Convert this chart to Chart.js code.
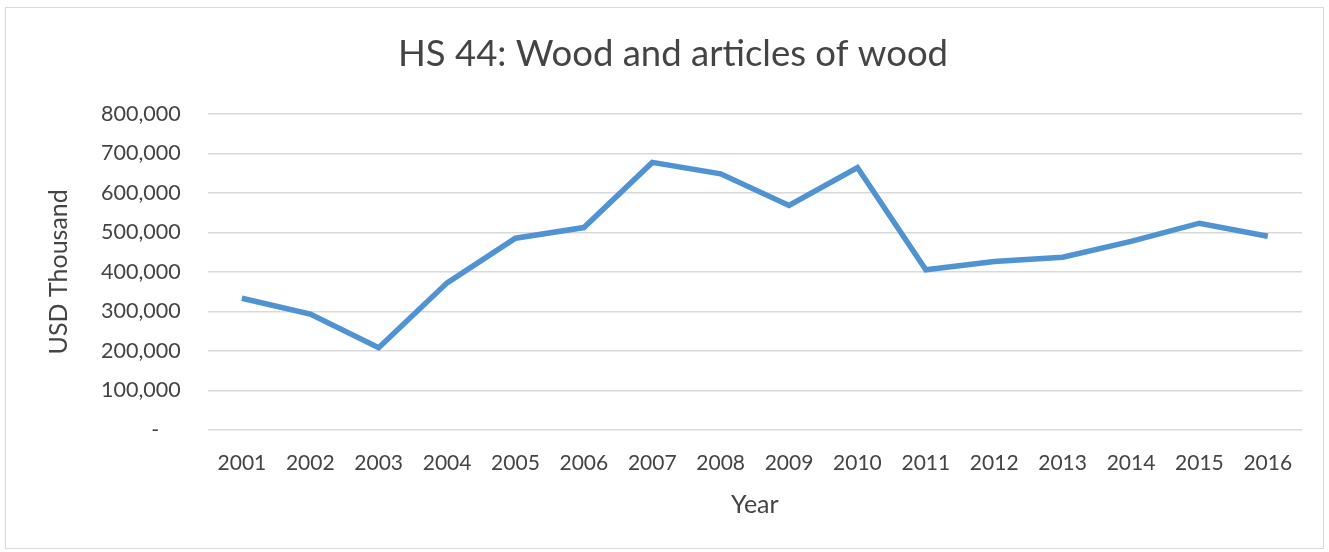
<!DOCTYPE html>
<html>
<head>
<meta charset="utf-8">
<script src="https://cdn.jsdelivr.net/npm/chart.js@4/dist/chart.umd.min.js"></script>
<style>
    html, body { margin: 0; padding: 0; background: #fff; }
    #wrap { position: relative; width: 1329px; height: 552px; }
    #frame {
        position: absolute; left: 5px; top: 7px; width: 1317px; height: 540px;
        border: 1px solid #d9d9d9; pointer-events: none;
    }
</style>
</head>
<body>
<div id="wrap">
    <canvas id="woodChart" width="1329" height="552"></canvas>
    <div id="frame"></div>
</div>
<script>

// HS 44 exports, USD thousand per year

var years = ['2001', '2002', '2003', '2004', '2005', '2006', '2007', '2008',
             '2009', '2010', '2011', '2012', '2013', '2014', '2015', '2016'];

var woodValues = [333000, 293000, 208000, 372000, 485000, 512000, 677000, 648000,
                  568000, 664000, 405000, 426000, 437000, 477000, 523000, 490000];

var yTicks = [0, 100000, 200000, 300000, 400000, 500000, 600000, 700000, 800000];


Chart.defaults.font.family = "Lato, 'Open Sans', sans-serif";
Chart.defaults.color = '#444444';


var ctx_w = document.getElementById('woodChart').getContext('2d');

var wood_chart = new Chart(ctx_w, {
    type: 'line',

    data: {
        labels: years,
        datasets: [{
            label: 'HS 44',
            data: woodValues,
            borderColor: '#4f93d3',
            borderWidth: 5.5,
            pointRadius: 0,
            tension: 0,
            fill: false,
        }],
    },

    options: {
        responsive: false,
        animation: false,
        layout: {
            padding: {top: 10, left: 44, right: 27, bottom: 32},
        },

        scales: {
            x: {
                offset: true,
                grid: {display: false, drawTicks: true, tickLength: 7},
                border: {display: false},
                ticks: {
                    padding: 14,
                    font: {size: 21},
                    maxRotation: 0,
                    autoSkip: false,
                },
                title: {
                    display: true,
                    text: 'Year',
                    font: {size: 25},
                    padding: {top: 0, bottom: 0},
                },
            },
            y: {
                min: 0,
                max: 800000,
                afterBuildTicks: function(scale) {
                    scale.ticks = yTicks.map(function(v) { return {value: v}; });
                },
                grid: {
                    color: '#d9d9d9',
                    lineWidth: 1.5,
                    drawTicks: false,
                },
                border: {display: false},
                ticks: {
                    padding: 27,
                    font: {size: 21.5},
                    callback: function(value) {
                        if (value === 0) return '-\u2002\u2002';
                        return value.toLocaleString('en-US');
                    },
                },
                title: {
                    display: true,
                    text: 'USD Thousand',
                    font: {size: 25},
                    padding: {top: 0, bottom: 0},
                },
            },
        },

        plugins: {
            legend: {display: false},
            tooltip: {enabled: false},
            title: {
                display: true,
                text: 'HS 44: Wood and articles of wood',
                font: {size: 36.5, weight: 'normal'},
                padding: {top: 22, bottom: 38},
            },
        },
    },
});

</script>
</body>
</html>
